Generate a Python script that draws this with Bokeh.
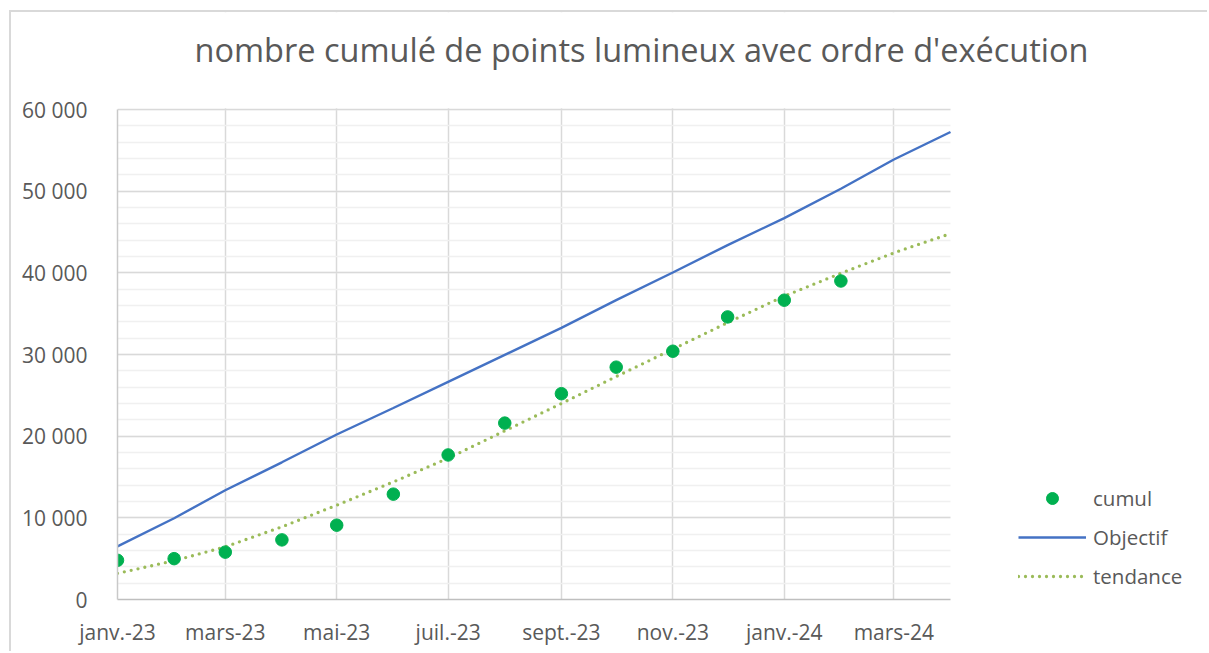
import pandas as pd
from bokeh.plotting import figure
from bokeh.models import (Range1d, FixedTicker, Legend, LegendItem, Label,
                          BoxAnnotation, ColumnDataSource)
from bokeh.embed import file_html
from bokeh.resources import INLINE

# ---------------- data ----------------
cumul_months = ["2023-01-01", "2023-02-01", "2023-03-01", "2023-04-01", "2023-05-01",
                "2023-06-01", "2023-07-01", "2023-08-01", "2023-09-01", "2023-10-01",
                "2023-11-01", "2023-12-01", "2024-01-01", "2024-02-01"]
cumul = [4800, 5000, 5800, 7300, 9100, 12900, 17700, 21600, 25200, 28450,
         30400, 34600, 36650, 39000]

line_months = ["2023-01-01", "2023-02-01", "2023-03-01", "2023-04-01", "2023-05-01",
               "2023-06-01", "2023-07-01", "2023-08-01", "2023-09-01", "2023-10-01",
               "2023-11-01", "2023-12-01", "2024-01-01", "2024-02-01", "2024-03-01",
               "2024-04-01"]
objectif = [6500, 9950, 13380, 16800, 20200, 23450, 26650, 29950, 33260, 36650,
            40040, 43400, 46700, 50300, 53880, 57250]
tendance = [3200, 4750, 6450, 8900, 11550, 14400, 17300, 20650, 24000, 27300,
            30650, 33900, 37150, 39950, 42450, 44800]

x_tick_dates = ["2023-01-01", "2023-03-01", "2023-05-01", "2023-07-01",
                "2023-09-01", "2023-11-01", "2024-01-01", "2024-03-01"]
x_tick_labels = ["janv.-23", "mars-23", "mai-23", "juil.-23", "sept.-23",
                 "nov.-23", "janv.-24", "mars-24"]
y_ticks = [0, 10000, 20000, 30000, 40000, 50000, 60000]
y_tick_labels = ["0", "10 000", "20 000", "30 000", "40 000", "50 000", "60 000"]
y_minor = [v for v in range(0, 60001, 2000)]
y_max = 60000

title_text = "nombre cumulé de points lumineux avec ordre d'exécution"
x_start, x_end = "2023-01-01", "2024-04-01"

# ---------------- layout (pixels) ----------------
W, H = 1198, 641
LEFT, BOTTOM = 106, 54
PLOT_W, PLOT_H = 833, 490          # size of the actual plotting area
FRAME_W, FRAME_H = W - LEFT, H - BOTTOM

def ms(d):
    return pd.Timestamp(d).value / 1e6

x0, x1 = ms(x_start), ms(x_end)
frame_x_end = x0 + (x1 - x0) * FRAME_W / PLOT_W
frame_y_end = y_max * FRAME_H / PLOT_H

FONT = "Open Sans"
GREY = "#595959"

src_c = ColumnDataSource(dict(x=[ms(d) for d in cumul_months], y=cumul))
src_l = ColumnDataSource(dict(x=[ms(d) for d in line_months], o=objectif, t=tendance))

p = figure(width=W, height=H, output_backend="svg", toolbar_location=None,
           x_axis_type="datetime",
           x_range=Range1d(x0, frame_x_end), y_range=Range1d(0, frame_y_end),
           min_border_left=LEFT, min_border_right=0, min_border_top=0,
           min_border_bottom=BOTTOM, outline_line_color=None,
           background_fill_color="white", border_fill_color="white")
p.margin = (10, 0, 0, 9)
p.styles = {"border-top": "2px solid #d9d9d9", "border-left": "2px solid #d9d9d9"}

# axes
xt = [ms(d) for d in x_tick_dates]
p.xaxis.ticker = FixedTicker(ticks=xt)
p.xaxis.major_label_overrides = {t: l for t, l in zip(xt, x_tick_labels)}
p.xaxis.bounds = (x0, x1)
p.yaxis.ticker = FixedTicker(ticks=y_ticks, minor_ticks=y_minor)
p.yaxis.major_label_overrides = {t: l for t, l in zip(y_ticks, y_tick_labels)}
p.yaxis.bounds = (0, y_max)

for ax in (p.xaxis[0], p.yaxis[0]):
    ax.major_label_text_font = FONT
    ax.major_label_text_font_size = "21px"
    ax.major_label_text_color = GREY
    ax.major_tick_line_color = None
    ax.minor_tick_line_color = None
    ax.axis_line_color = "#bfbfbf"
    ax.axis_line_width = 1.5
p.yaxis.major_label_standoff = 24
p.xaxis.major_label_standoff = 12
p.yaxis.axis_line_color = "#c9c9c9"

p.xgrid.grid_line_color = "#d9d9d9"
p.xgrid.grid_line_width = 1.5
p.ygrid.grid_line_color = "#d9d9d9"
p.ygrid.grid_line_width = 1.5
p.ygrid.minor_grid_line_color = "#f0f0f0"
p.ygrid.minor_grid_line_width = 1.5

# white masks hiding the grid outside the plotting area
p.add_layout(BoxAnnotation(left=x1, fill_color="white", fill_alpha=1,
                           line_alpha=0, level="underlay"))
p.add_layout(BoxAnnotation(bottom=y_max + 150, fill_color="white", fill_alpha=1,
                           line_alpha=0, level="underlay"))

# glyphs
r_obj = p.line("x", "o", source=src_l, line_color="#4472c4", line_width=2.4)
r_tend = p.line("x", "t", source=src_l, line_color="#9bbb59", line_width=3.3,
                line_dash="0 7", line_cap="round")
r_cum = p.scatter("x", "y", source=src_c, size=12.5, marker="circle",
                  fill_color="#00b050", line_color="#00b050")

legend = Legend(items=[LegendItem(label="cumul", renderers=[r_cum]),
                       LegendItem(label="Objectif", renderers=[r_obj]),
                       LegendItem(label="tendance", renderers=[r_tend])],
                location=(901, 8), orientation="vertical",
                glyph_width=68, glyph_height=30, label_height=30, spacing=9,
                label_standoff=7, padding=0, margin=0,
                border_line_color=None, background_fill_alpha=0,
                label_text_font=FONT, label_text_font_size="20.5px",
                label_text_color=GREY)
p.add_layout(legend, "center")

p.add_layout(Label(x=524, y=550, x_units="screen", y_units="screen",
                   text=title_text, text_align="center", text_baseline="alphabetic",
                   text_font=FONT, text_font_size="32.5px", text_color=GREY))

open("out.html", "w").write(file_html(p, INLINE))
